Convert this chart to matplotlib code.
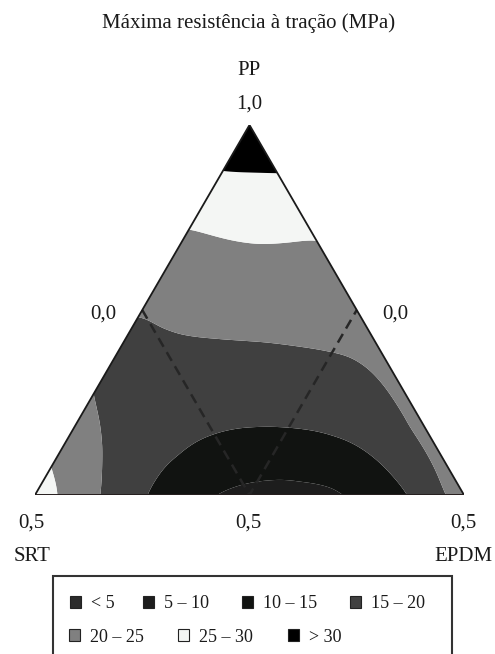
import numpy as np
import matplotlib
matplotlib.use("Agg")
import matplotlib.pyplot as plt
from matplotlib.patches import Polygon, Rectangle

plt.rcParams['font.family'] = ['Liberation Serif', 'DejaVu Serif']

# ---------------- data ----------------
# positions inside the triangle: horizontal fraction (0 = SRT corner, 1 = EPDM corner)
# and PP fraction (0 = base, 1 = PP vertex); value = tensile strength (MPa)
pt_h = [0.450, 0.473, 0.499, 0.524, 0.552, 0.499, 0.499,
        0.364, 0.408, 0.455, 0.524, 0.594, 0.648, 0.506,
        0.245, 0.291, 0.338, 0.415, 0.531, 0.618, 0.688, 0.734, 0.788, 0.821, 0.867, 0.904, 0.937, 0.956,
        0.133, 0.152, 0.159, 0.156, 0.152,
        0.035, 0.047, 0.054, 0.004,
        0.259, 0.284, 0.338, 0.415, 0.478, 0.548, 0.618, 0.695, 0.774, 0.834, 0.874,
        0.415, 0.462, 0.548, 0.618, 0.695, 0.718, 0.559,
        0.499, 0.361, 0.688, 0.093, 0.883, 0.979, 0.762, 0.196, 0.501, 0.221, 0.827, 0.548]
pt_pp = [0.873, 0.873, 0.873, 0.872, 0.870, 0.990, 0.932,
         0.722, 0.703, 0.689, 0.676, 0.681, 0.695, 0.784,
         0.492, 0.446, 0.432, 0.424, 0.414, 0.400, 0.384, 0.373, 0.330, 0.284, 0.211, 0.130, 0.059, 0.000,
         0.276, 0.195, 0.130, 0.041, 0.000,
         0.068, 0.032, 0.000, 0.003,
         0.000, 0.041, 0.103, 0.162, 0.181, 0.186, 0.178, 0.157, 0.114, 0.049, 0.000,
         0.000, 0.019, 0.035, 0.032, 0.022, 0.000, 0.005,
         0.554, 0.568, 0.527, 0.122, 0.203, 0.008, 0.500, 0.392, 0.284, 0.122, 0.149, 0.095]
pt_val = [30, 30, 30, 30, 30, 34, 32,
          25, 25, 25, 25, 25, 25, 27.5,
          20, 20, 20, 20, 20, 20, 20, 20, 20, 20, 20, 20, 20, 20,
          20, 20, 20, 20, 20,
          25, 25, 25, 27.5,
          15, 15, 15, 15, 15, 15, 15, 15, 15, 15, 15,
          10, 10, 10, 10, 10, 10, 8,
          22.5, 22.5, 22.5, 22.5, 21, 21.5, 22, 19, 17.5, 17.5, 17.5, 12.5]

levels = [0, 5, 10, 15, 20, 25, 30, 40]
legend_labels = ['< 5', '5 – 10', '10 – 15', '15 – 20', '20 – 25', '25 – 30', '> 30']
level_colors = ['#2b2b2b', '#1d1d1d', '#111311', '#404040', '#808080', '#f4f6f4', '#000000']

title = 'Máxima resistência à tração (MPa)'

# ---------------- smooth surface through the read values (thin-plate spline) ----------------
H = 0.8625  # triangle height / width
px = np.array(pt_h)
py = np.array(pt_pp) * H
pv = np.array(pt_val, dtype=float)


def kern(r):
    with np.errstate(divide='ignore', invalid='ignore'):
        k = r ** 2 * np.log(r)
    return np.nan_to_num(k)


n = len(px)
D = np.hypot(px[:, None] - px[None, :], py[:, None] - py[None, :])
K = kern(D) + 5e-3 * np.eye(n)
P = np.column_stack([np.ones(n), px, py])
A = np.zeros((n + 3, n + 3))
A[:n, :n] = K
A[:n, n:] = P
A[n:, :n] = P.T
rhs = np.concatenate([pv, np.zeros(3)])
sol = np.linalg.solve(A, rhs)
w, a = sol[:n], sol[n:]

gx, gy = np.meshgrid(np.linspace(0, 1, 320), np.linspace(0, H, 280))
Dg = np.hypot(gx.ravel()[:, None] - px[None, :], gy.ravel()[:, None] - py[None, :])
Z = kern(Dg) @ w + a[0] + a[1] * gx.ravel() + a[2] * gy.ravel()
Z = np.clip(Z.reshape(gx.shape), 0.5, 39)

# ---------------- figure ----------------
W, Hpx = 495, 654
fig = plt.figure(figsize=(W / 100, Hpx / 100), dpi=100)
ax = fig.add_axes([35 / W, (Hpx - 495) / Hpx, 429 / W, 370 / Hpx])
ax.set_xlim(0, 1)
ax.set_ylim(0, H)
ax.axis('off')

tri = Polygon([[0, 0], [1, 0], [0.5, H]], closed=True, facecolor='none',
              edgecolor='#1a1a1a', linewidth=1.3, zorder=5)
ax.add_patch(tri)
cs = ax.contourf(gx, gy, Z, levels=levels, colors=level_colors, antialiased=True)
cs.set_clip_path(tri)

# inner dashed sub-region
ax.plot([0.25, 0.5, 0.75], [H / 2, 0, H / 2], linestyle=(0, (4, 2.5)),
        color='#262626', linewidth=1.8, zorder=4)
ax.plot([0, 1], [0, 0], color='#2a2020', linewidth=1.8, zorder=6, solid_capstyle='butt')


def ftext(x, y, s, size=15, ha='center'):
    fig.text(x / W, 1 - y / Hpx, s, ha=ha, va='baseline', fontsize=size, color='#1a1a1a')


ftext(249, 28, title)
ftext(249, 75, 'PP')
ftext(249, 109, '1,0')
ftext(103, 319, '0,0')
ftext(395, 319, '0,0')
ftext(31, 528, '0,5')
ftext(248, 528, '0,5')
ftext(463, 528, '0,5')
ftext(32, 561, 'SRT')
ftext(463, 561, 'EPDM')

# legend box
box = Rectangle((53 / W, -0.05), (452 - 53) / W, 1 - 576 / Hpx + 0.05, transform=fig.transFigure,
                facecolor='none', edgecolor='#333333', linewidth=1.5)
fig.patches.append(box)

sq_x = [70, 143, 242, 350, 69, 178, 288]
sq_y = [596, 596, 596, 596, 629, 629, 629]
for i, lab in enumerate(legend_labels):
    x0, y0 = sq_x[i], sq_y[i]
    fig.patches.append(Rectangle((x0 / W, 1 - (y0 + 12) / Hpx), 11 / W, 12 / Hpx,
                                 transform=fig.transFigure, facecolor=level_colors[i],
                                 edgecolor='#222222', linewidth=0.8))
    ftext(x0 + 21, y0 + 12.5, lab, size=13, ha='left')

fig.savefig('out.png', dpi=100)
